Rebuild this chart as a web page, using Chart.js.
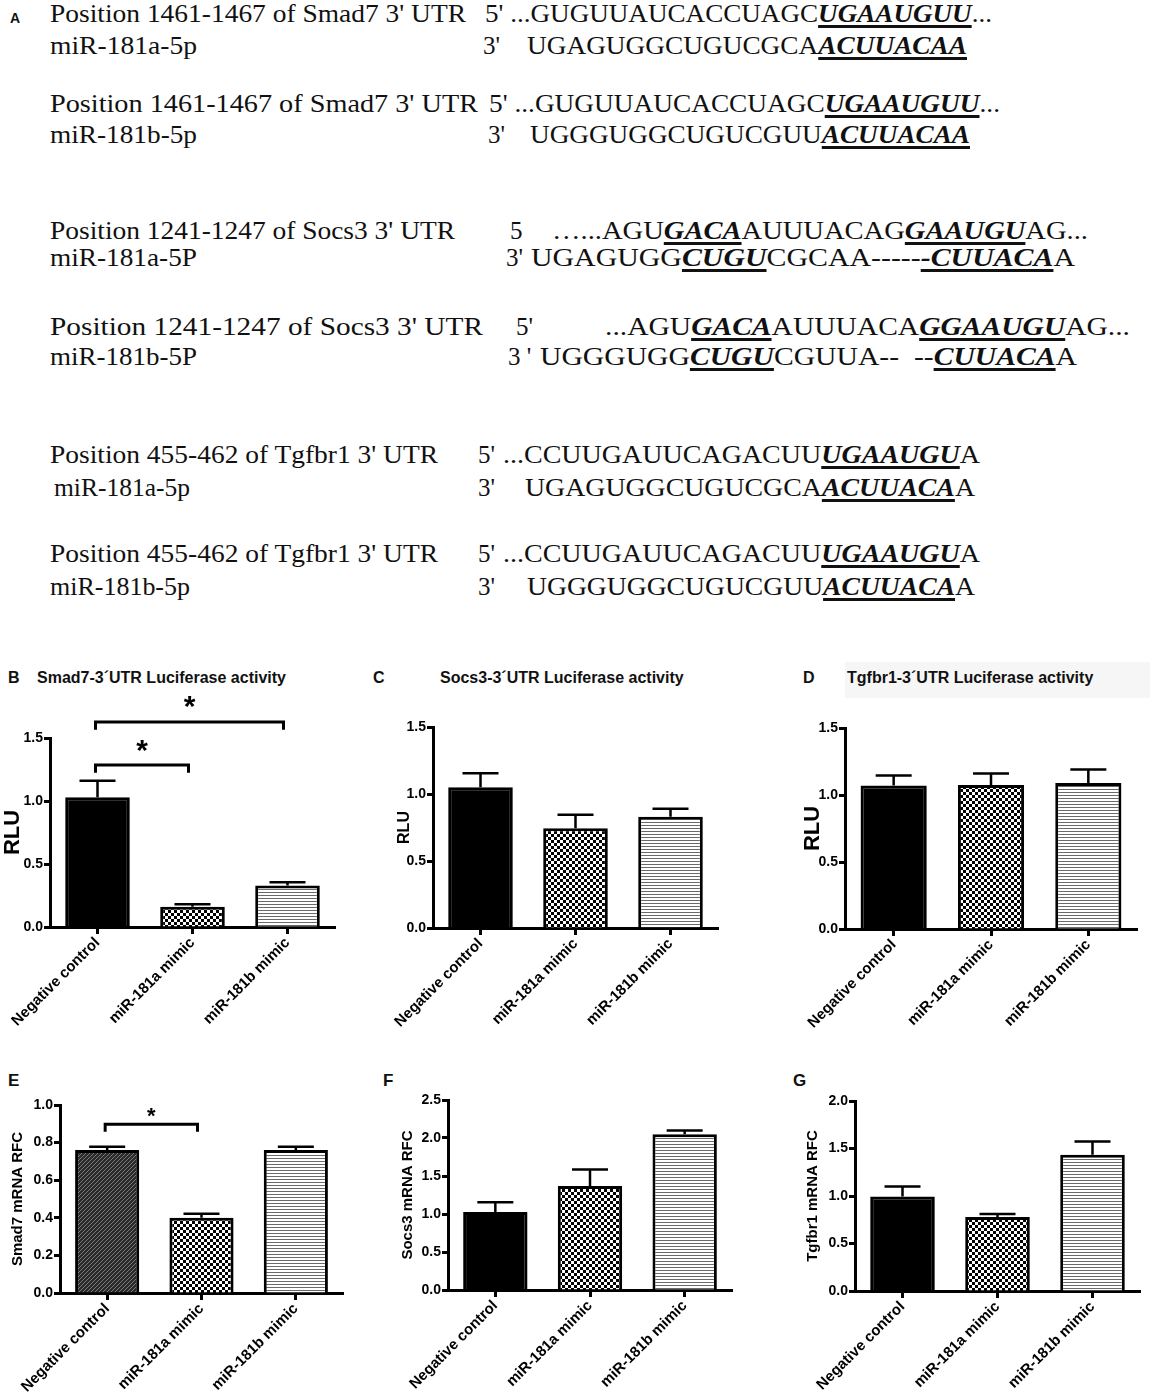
<!DOCTYPE html>
<html>
<head>
<meta charset="utf-8">
<script src="https://cdn.jsdelivr.net/npm/chart.js@4/dist/chart.umd.min.js"></script>
<style>
body { margin: 0; background: #fff; }
#page { position: relative; width: 1150px; height: 1394px; overflow: hidden; background: #fff; }
.seq { position: absolute; font-family: "Liberation Serif", "Times New Roman", serif; font-size: 25px; line-height: 26px; white-space: pre; color: #111; transform-origin: 0 0; }
.seq b { font-style: italic; text-decoration: underline; text-decoration-thickness: 3px; text-underline-offset: 3px; }
.lbl { position: absolute; font-family: "Liberation Sans", Arial, sans-serif; font-weight: bold; line-height: 1; color: #111; white-space: pre; }
canvas { position: absolute; }
</style>
</head>
<body>
<div id="page"></div>
<script>
// group names shared by all six bar panels
const groups = ["Negative control", "miR-181a mimic", "miR-181b mimic"];

// luciferase (RLU), mean and SEM
const smad7Luc = [1.03, 0.16, 0.33];
const smad7LucErr = [0.13, 0.02, 0.025];
const socs3Luc = [1.05, 0.745, 0.83];
const socs3LucErr = [0.105, 0.10, 0.06];
const tgfbr1Luc = [1.07, 1.075, 1.09];
const tgfbr1LucErr = [0.075, 0.085, 0.10];

// mRNA relative fold change, mean and SEM
const smad7Rfc = [0.76, 0.40, 0.76];
const smad7RfcErr = [0.018, 0.022, 0.018];
const socs3Rfc = [1.025, 1.37, 2.05];
const socs3RfcErr = [0.13, 0.215, 0.05];
const tgfbr1Rfc = [0.995, 0.78, 1.435];
const tgfbr1RfcErr = [0.105, 0.03, 0.14];

const lucTicks = [0, 0.5, 1.0, 1.5];

Chart.defaults.font.family = "'Liberation Sans', Arial, sans-serif";
Chart.defaults.font.weight = "bold";
Chart.defaults.font.size = 14;
Chart.defaults.color = "#000";

const page = document.getElementById("page");

// ---- panel A: sequence alignments ----
const seqText = [
  [50, 14, "Position 1461-1467 of Smad7 3' UTR", 466],
  [485, 14, "5' ...GUGUUAUCACCUAGC{UGAAUGUU}...", 992],
  [50, 46, "miR-181a-5p", 197],
  [483, 46, "3'", null],
  [527, 46, "UGAGUGGCUGUCGCA{ACUUACAA}", 967],
  [50, 104, "Position 1461-1467 of Smad7 3' UTR", 478],
  [489, 104, "5' ...GUGUUAUCACCUAGC{UGAAUGUU}...", 1000],
  [50, 135, "miR-181b-5p", 197],
  [488, 135, "3'", null],
  [530, 135, "UGGGUGGCUGUCGUU{ACUUACAA}", 970],
  [50, 231, "Position 1241-1247 of Socs3 3' UTR", 455],
  [510, 231, "5", null],
  [552, 231, "\u2026...AGU{GACA}AUUUACAG{GAAUGU}AG...", 1088],
  [50, 258, "miR-181a-5P", 197],
  [506, 258, "3'", null],
  [531, 258, "UGAGUGG{CUGU}CGCAA-----{-CUUACA}A", 1075],
  [50, 327, "Position 1241-1247 of Socs3 3' UTR", 483],
  [516, 327, "5'", null],
  [605, 327, "...AGU{GACA}AUUUACA{GGAAUGU}AG...", 1130],
  [50, 357, "miR-181b-5P", 197],
  [508, 357, "3 '", null],
  [540, 357, "UGGGUGG{CUGU}CGUUA--  --{CUUACA}A", 1077],
  [50, 455, "Position 455-462 of Tgfbr1 3' UTR", 438],
  [478, 455, "5'", null],
  [503, 455, "...CCUUGAUUCAGACUU{UGAAUGU}A", 980],
  [54, 488, "miR-181a-5p", 190],
  [478, 488, "3'", null],
  [525, 488, "UGAGUGGCUGUCGCA{ACUUACA}A", 975],
  [50, 554, "Position 455-462 of Tgfbr1 3' UTR", 438],
  [478, 554, "5'", null],
  [503, 554, "...CCUUGAUUCAGACUU{UGAAUGU}A", 980],
  [50, 587, "miR-181b-5p", 190],
  [478, 587, "3'", null],
  [527, 587, "UGGGUGGCUGUCGUU{ACUUACA}A", 975],
];

seqText.forEach(([x, yc, txt, right]) => {
  const el = document.createElement("div");
  el.className = "seq";
  el.innerHTML = txt.replace(/\{/g, "<b>").replace(/\}/g, "</b>");
  el.style.left = x + "px";
  el.style.top = (yc - 13) + "px";
  page.appendChild(el);
  if (right) {
    const w = el.getBoundingClientRect().width;
    el.style.transform = "scaleX(" + ((right - x) / w) + ")";
  }
});

function label(text, x, yc, size, extra) {
  const el = document.createElement("div");
  el.className = "lbl";
  el.textContent = text;
  el.style.left = x + "px";
  el.style.top = (yc - 0.49 * size) + "px";
  el.style.fontSize = size + "px";
  if (extra) Object.assign(el.style, extra);
  page.appendChild(el);
  return el;
}

// light box behind the D title
const dBg = document.createElement("div");
Object.assign(dBg.style, { position: "absolute", left: "845px", top: "662px", width: "305px", height: "36px", background: "#f6f6f6" });
page.appendChild(dBg);

label("A", 10, 18, 14);
label("B", 8, 678, 16);
label("Smad7-3\u00b4UTR Luciferase activity", 37, 678, 16);
label("C", 373, 678, 16);
label("Socs3-3\u00b4UTR Luciferase activity", 440, 678, 16);
label("D", 803, 678, 16);
label("Tgfbr1-3\u00b4UTR Luciferase activity", 847, 678, 16);
label("E", 8, 1080, 17);
label("F", 383, 1080, 17);
label("G", 793, 1080, 17);

// ---- fill patterns ----
function makePattern(kind) {
  const c = document.createElement("canvas");
  const g = c.getContext("2d");
  if (kind === "check") {
    c.width = c.height = 6;
    g.fillStyle = "#fff"; g.fillRect(0, 0, 6, 6);
    g.fillStyle = "#000"; g.fillRect(0, 0, 3, 3); g.fillRect(3, 3, 3, 3);
  } else if (kind === "stripe") {
    c.width = 4; c.height = 3;
    g.fillStyle = "#fff"; g.fillRect(0, 0, 4, 3);
    g.fillStyle = "#6a6a6a"; g.fillRect(0, 0, 4, 1);
  } else {
    c.width = c.height = 4;
    g.fillStyle = "#2b2b2b"; g.fillRect(0, 0, 4, 4);
    g.fillStyle = "#7a7a7a";
    for (let i = 0; i < 4; i++) g.fillRect(i, 3 - i, 1, 1);
  }
  return g.createPattern(c, "repeat");
}
const checkFill = makePattern("check");
const stripeFill = makePattern("stripe");
const diagFill = makePattern("diag");

// error bars (upper arm only) and significance brackets
const errorBarPlugin = {
  id: "errorBars",
  afterDatasetsDraw(chart, args, opts) {
    const meta = chart.getDatasetMeta(0);
    const y = chart.scales.y;
    const ctx = chart.ctx;
    ctx.save();
    ctx.strokeStyle = "#000";
    ctx.lineWidth = 2.5;
    meta.data.forEach((bar, i) => {
      const top = y.getPixelForValue(opts.values[i] + opts.errors[i]);
      ctx.beginPath();
      ctx.moveTo(bar.x, bar.y);
      ctx.lineTo(bar.x, top);
      ctx.moveTo(bar.x - 18, top);
      ctx.lineTo(bar.x + 18, top);
      ctx.stroke();
    });
    (opts.brackets || []).forEach(b => {
      const x1 = meta.data[b.from].x - 2, x2 = meta.data[b.to].x - 4;
      const yb = y.getPixelForValue(b.at), yf = y.getPixelForValue(b.foot);
      ctx.lineWidth = 3;
      ctx.beginPath();
      ctx.moveTo(x1, yf); ctx.lineTo(x1, yb); ctx.lineTo(x2, yb); ctx.lineTo(x2, yf);
      ctx.stroke();
      ctx.fillStyle = "#000";
      ctx.font = "bold " + b.size + "px 'Liberation Sans', Arial";
      ctx.textAlign = "center";
      ctx.textBaseline = "middle";
      ctx.fillText("*", (x1 + x2) / 2, y.getPixelForValue(b.star) + 0.21 * b.size);
    });
    ctx.restore();
  }
};

function panel(box, values, errors, fills, yMax, yStep, yTitle, titleSize, brackets) {
  const canvas = document.createElement("canvas");
  canvas.width = box.w;
  canvas.height = box.h;
  canvas.style.left = box.left + "px";
  canvas.style.top = box.top + "px";
  page.appendChild(canvas);
  const family = "'Liberation Sans', Arial, sans-serif";
  return new Chart(canvas.getContext("2d"), {
    type: "bar",
    data: {
      labels: groups,
      datasets: [{
        data: values,
        backgroundColor: fills,
        borderColor: "#000",
        borderWidth: 3,
        categoryPercentage: 1,
        barPercentage: 0.68,
      }],
    },
    options: {
      responsive: false,
      animation: false,
      layout: { padding: { top: box.padTop, right: box.padRight, left: 0, bottom: 0 } },
      plugins: {
        legend: { display: false },
        tooltip: { enabled: false },
        errorBars: { values: values, errors: errors, brackets: brackets },
      },
      scales: {
        x: {
          z: 1,
          border: { color: "#000", width: 3 },
          grid: { drawOnChartArea: false, drawTicks: true, tickLength: 7, tickWidth: 3, tickColor: "#000", offset: false },
          ticks: { color: "#000", font: { family: family, weight: "bold", size: 15 }, minRotation: 45, maxRotation: 45, padding: 0, autoSkip: false },
          afterFit(s) { s.height = box.xh; s.paddingLeft = 0; s.paddingRight = 0; },
        },
        y: {
          min: 0,
          max: yMax,
          border: { color: "#000", width: 3 },
          grid: { drawOnChartArea: false, drawTicks: true, tickLength: 6, tickWidth: 3, tickColor: "#000" },
          ticks: { stepSize: yStep, color: "#000", font: { family: family, weight: "bold", size: 14 }, padding: 1, callback: v => v.toFixed(1) },
          title: { display: true, text: yTitle, color: "#000", font: { family: family, weight: "bold", size: titleSize }, padding: { top: box.titlePad, bottom: 0 } },
          afterFit(s) { s.width = box.yw; s.paddingTop = 0; s.paddingBottom = 0; },
        },
      },
    },
    plugins: [errorBarPlugin],
  });
}

const lucMax = lucTicks[lucTicks.length - 1];

panel({ left: 0, top: 688, w: 345, h: 379, yw: 50, padTop: 50, padRight: 10, xh: 140, titlePad: 0 },
  smad7Luc, smad7LucErr, ["#000", checkFill, stripeFill], lucMax, 0.5, "RLU", 22,
  [{ from: 0, to: 1, at: 1.285, foot: 1.225, star: 1.44, size: 30 },
   { from: 0, to: 2, at: 1.627, foot: 1.566, star: 1.79, size: 30 }]);

panel({ left: 383, top: 690, w: 345, h: 378, yw: 50, padTop: 37, padRight: 10, xh: 140, titlePad: 12 },
  socs3Luc, socs3LucErr, ["#000", checkFill, stripeFill], lucMax, 0.5, "RLU", 16, []);

panel({ left: 795, top: 690, w: 355, h: 379, yw: 50, padTop: 38, padRight: 13, xh: 140, titlePad: 5 },
  tgfbr1Luc, tgfbr1LucErr, ["#000", checkFill, stripeFill], lucMax, 0.5, "RLU", 22, []);

panel({ left: 0, top: 1095, w: 350, h: 298, yw: 60, padTop: 10, padRight: 7, xh: 100, titlePad: 9 },
  smad7Rfc, smad7RfcErr, [diagFill, checkFill, stripeFill], 1.0, 0.2, "Smad7 mRNA RFC", 15,
  [{ from: 0, to: 1, at: 0.897, foot: 0.858, star: 0.96, size: 22 }]);

panel({ left: 385, top: 1090, w: 360, h: 300, yw: 63, padTop: 10, padRight: 13, xh: 100, titlePad: 14 },
  socs3Rfc, socs3RfcErr, ["#000", checkFill, stripeFill], 2.5, 0.5, "Socs3 mRNA RFC", 15, []);

panel({ left: 792, top: 1090, w: 358, h: 301, yw: 63, padTop: 11, padRight: 10, xh: 100, titlePad: 12 },
  tgfbr1Rfc, tgfbr1RfcErr, ["#000", checkFill, stripeFill], 2.0, 0.5, "Tgfbr1 mRNA RFC", 15, []);
</script>
</body>
</html>
